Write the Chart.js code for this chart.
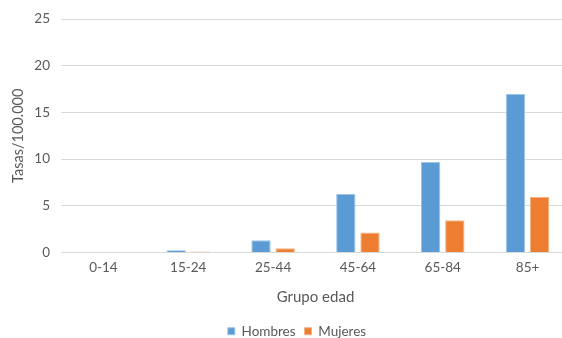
<!DOCTYPE html>
<html>
<head>
<meta charset="utf-8">
<script src="https://cdn.jsdelivr.net/npm/chart.js@4.4.0/dist/chart.umd.min.js"></script>
<style>
html,body{margin:0;padding:0;background:#fff;overflow:hidden;}
#wrap{width:570px;height:338px;position:relative;}
</style>
</head>
<body>
<div id="wrap"><canvas id="c" width="570" height="338"></canvas></div>
<script>
const categories = ["0-14","15-24","25-44","45-64","65-84","85+"];
const hombres = [0, 0.25, 1.3, 6.3, 9.7, 17.0];
const mujeres = [0, 0.1, 0.45, 2.15, 3.45, 5.95];
const yTicks = [0,5,10,15,20,25];

const FONT = "Lato, 'Open Sans', sans-serif";
const TXT = "#595959";

const legendShift = {
  id: 'legendShift',
  afterLayout(chart) {
    const l = chart.legend;
    if (l) { l.left += 10; l.right += 10; }
  }
};

new Chart(document.getElementById('c'), {
  type: 'bar',
  data: {
    labels: categories,
    datasets: [
      {label: 'Hombres', data: hombres, backgroundColor: '#5B9BD5', borderColor: '#9DC3E6', borderWidth: 1,
       categoryPercentage: 0.57, barPercentage: 0.8},
      {label: 'Mujeres', data: mujeres, backgroundColor: '#ED7D31', borderColor: '#F4B183', borderWidth: 1,
       categoryPercentage: 0.57, barPercentage: 0.8}
    ]
  },
  plugins: [legendShift],
  options: {
    responsive: false,
    animation: false,
    layout: {padding: {top: 12, left: 4, right: 0, bottom: -10}},
    plugins: {
      legend: {
        position: 'bottom',
        labels: {
          boxWidth: 7, boxHeight: 7, color: TXT, font: {family: FONT, size: 13.5}, padding: 2,
          generateLabels: (chart) => {
            const items = Chart.defaults.plugins.legend.labels.generateLabels(chart);
            items.forEach((it, i) => { if (i < items.length - 1) it.text = it.text + '  '; });
            return items;
          }
        }
      },
      tooltip: {enabled: false}
    },
    scales: {
      x: {
        grid: {display: false, drawTicks: false},
        border: {display: false},
        ticks: {color: TXT, font: {family: FONT, size: 13.5}, padding: 7},
        title: {display: true, text: 'Grupo edad', color: TXT, font: {family: FONT, size: 15}, padding: {top: 0, bottom: 16}},
        afterFit: (s) => { s.height = 70; }
      },
      y: {
        min: 0, max: 25,
        afterBuildTicks: (a) => { a.ticks = yTicks.map(v => ({value: v})); },
        grid: {color: '#D9D9D9', lineWidth: 1, drawTicks: false},
        border: {display: false},
        ticks: {color: TXT, font: {family: FONT, size: 13.5}, padding: 11},
        title: {display: true, text: 'Tasas/100.000', color: TXT, font: {family: FONT, size: 14.5}, padding: {top: 6, bottom: 0}},
        afterFit: (s) => { s.width = 57; }
      }
    }
  }
});
</script>
</body>
</html>
